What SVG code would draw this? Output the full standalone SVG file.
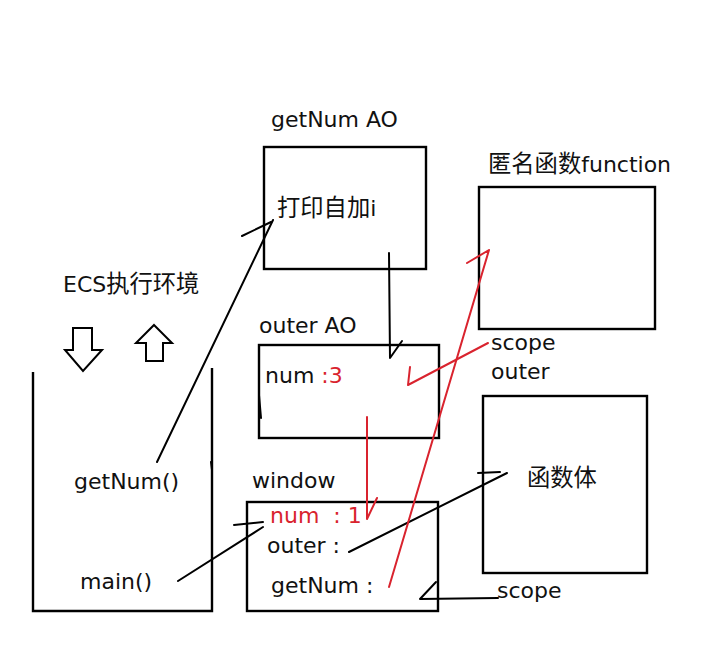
<svg xmlns="http://www.w3.org/2000/svg" width="710" height="660" viewBox="0 0 710 660">
<style>
text{font-family:"DejaVu Sans","Noto Sans CJK SC",sans-serif;font-size:22px;fill:#111}
.cjk{font-size:23.3px}
.red{fill:#d9232e}
.box{fill:none;stroke:#000;stroke-width:2.4}
.ln{fill:none;stroke:#000;stroke-width:2;stroke-linecap:round;stroke-linejoin:round}
.rl{fill:none;stroke:#d9232e;stroke-width:2;stroke-linecap:round;stroke-linejoin:round}
.arr{fill:#fff;stroke:#000;stroke-width:2;stroke-linejoin:miter}
</style>
<rect width="710" height="660" fill="#fff"/>
<g id="ecs">
<text x="63" y="292">ECS<tspan class="cjk">执行环境</tspan></text>
<path class="arr" d="M73,328 H92 V350 H102 L83,371 L65,350 H73 Z"/>
<path class="arr" d="M154,325 L172,343 H163 V361 H146 V343 H136 Z"/>
<path class="box" d="M33,372 V611 H212 V368"/>
<path class="ln" d="M211,462 L212,470"/>
<text x="74" y="489">getNum()</text>
<text x="80" y="589">main()</text>
</g>
<g id="getnum-ao">
<text x="271" y="127">getNum AO</text>
<rect class="box" x="264" y="147" width="162" height="122"/>
<text x="277" y="216"><tspan class="cjk">打印自加</tspan>i</text>
</g>
<g id="outer-ao">
<text x="259" y="333">outer AO</text>
<rect class="box" x="259" y="345" width="180" height="93"/>
<text x="265" y="383">num <tspan class="red">:3</tspan></text>
</g>
<g id="window">
<text x="252" y="488">window</text>
<rect class="box" x="247" y="502" width="191" height="109"/>
<text class="red" x="270" y="523" xml:space="preserve">num  : 1</text>
<text x="267" y="553">outer :</text>
<text x="271" y="593">getNum :</text>
</g>
<g id="anon-fn">
<text x="488" y="172"><tspan class="cjk">匿名函数</tspan>function</text>
<rect class="box" x="479" y="187" width="176" height="142"/>
<text x="491" y="350">scope</text>
<text x="491" y="379">outer</text>
</g>
<g id="fn-body">
<rect class="box" x="483" y="396" width="164" height="177"/>
<text class="cjk" x="527" y="486">函数体</text>
<text x="497" y="598">scope</text>
</g>
<g id="connectors">
<path class="ln" d="M157,462 L273,220"/>
<path class="ln" d="M242,236 L271,222"/>
<path class="ln" d="M389,253 L390,358 L402,341"/>
<path class="ln" d="M178,581 L263,527"/>
<path class="ln" d="M234,525 L263,522"/>
<path class="ln" d="M349,552 L507,473"/>
<path class="ln" d="M478,473 L500,472"/>
<path class="ln" d="M498,598 L420,599 L436,582"/>
<path class="ln" d="M259,395 L261,418"/>
<path class="rl" d="M488,343 L408,385 L410,367"/>
<path class="rl" d="M389,587 L489,250 L467,263"/>
<path class="rl" d="M367,417 L367,519 L377,498"/>
</g>
</svg>
